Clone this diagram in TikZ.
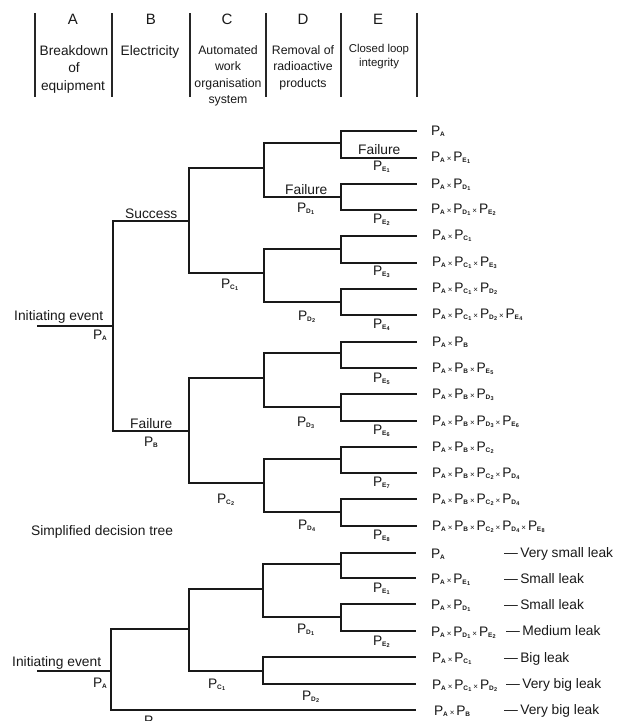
\documentclass[tikz,border=0pt]{standalone}
\usepackage{fontspec}
\setmainfont{Liberation Sans}
\newcommand{\Pone}[1]{P\kern-0.3pt\raisebox{-1.8pt}{\fontsize{6.5}{6.5}\selectfont\bfseries #1}}
\newcommand{\Ptwo}[2]{P\kern-0.3pt\raisebox{-1.8pt}{\fontsize{6.5}{6.5}\selectfont\bfseries #1\kern0.3pt\raisebox{-0.9pt}{\fontsize{5.5}{5.5}\selectfont #2}}}
\newcommand{\tms}{\hspace{2pt}{\fontsize{8}{8}\selectfont ×}\hspace{2pt}}
\tikzset{
  ln/.style={line width=1.5pt, draw=black!90},
  hline/.style={line width=1.5pt, draw=black!85},
  lbl/.style={inner sep=0pt, anchor=base west, text=black!90, font=\fontsize{13.8}{14}\selectfont},
  res/.style={inner sep=0pt, anchor=base west, text=black!90, font=\fontsize{13.8}{14}\selectfont},
  hdl/.style={inner sep=0pt, anchor=base, text=black!90, font=\fontsize{15}{15}\selectfont},
  hda/.style={inner sep=0pt, anchor=base, text=black!90, font=\fontsize{13.7}{14}\selectfont},
  hdc/.style={inner sep=0pt, anchor=base, text=black!90, font=\fontsize{12.3}{13}\selectfont},
  hde/.style={inner sep=0pt, anchor=base, text=black!90, font=\fontsize{11.4}{12}\selectfont},
}
\begin{document}
\begin{tikzpicture}[x=1pt,y=-1pt]
\useasboundingbox (0,0) rectangle (624,721);
% ---------- header ----------
\foreach \xx in {35,112,190,266,341,417}{
  \draw[hline] (\xx,13) -- (\xx,97);
}
\node[hdl] (hA) at (73,24) {A};
\node[hdl] (hB) at (151,24) {B};
\node[hdl] (hC) at (227,24) {C};
\node[hdl] (hD) at (303,24) {D};
\node[hdl] (hE) at (378,24) {E};
\node[hda] (a1) at (74,55) {Breakdown};
\node[hda] (a2) at (74,72.5) {of};
\node[hda] (a3) at (73,90) {equipment};
\node[hda] (b1t) at (150,55) {Electricity};
\node[hdc] (c1t) at (228,54.5) {Automated};
\node[hdc] (c2t) at (228,70.5) {work};
\node[hdc] (c3t) at (228,87) {organisation};
\node[hdc] (c4t) at (228,103) {system};
\node[hdc] (d1t) at (303,54.5) {Removal of};
\node[hdc] (d2t) at (303,70.5) {radioactive};
\node[hdc] (d3t) at (303,87) {products};
\node[hde] (e1t) at (379,52.5) {Closed loop};
\node[hde] (e2t) at (379,66.5) {integrity};

% ---------- top tree ----------
\coordinate (ie) at (37,326);
\coordinate (r) at (113,326);
\coordinate (b1) at (189,221);
\coordinate (b2) at (189,431);
\coordinate (c1) at (264,168);
\coordinate (c2) at (264,273);
\coordinate (c3) at (264,378);
\coordinate (c4) at (264,483);
\foreach \i/\yy in {1/143,2/197,3/249,4/302,5/353,6/407,7/459,8/512}{
  \coordinate (d\i) at (341,\yy);
}
\foreach \i/\yy in {1/131,2/158,3/184,4/210,5/236,6/263,7/289,8/315,9/342,10/368,11/394,12/421,13/447,14/473,15/499,16/526}{
  \coordinate (e\i) at (417,\yy);
}
\draw[ln] (ie) -- (r);
\draw[ln] (r) |- (b1);
\draw[ln] (r) |- (b2);
\draw[ln] (b1) |- (c1);
\draw[ln] (b1) |- (c2);
\draw[ln] (b2) |- (c3);
\draw[ln] (b2) |- (c4);
\draw[ln] (c1) |- (d1);
\draw[ln] (c1) |- (d2);
\draw[ln] (c2) |- (d3);
\draw[ln] (c2) |- (d4);
\draw[ln] (c3) |- (d5);
\draw[ln] (c3) |- (d6);
\draw[ln] (c4) |- (d7);
\draw[ln] (c4) |- (d8);
\foreach \i/\a/\b in {1/1/2,2/3/4,3/5/6,4/7/8,5/9/10,6/11/12,7/13/14,8/15/16}{
  \draw[ln] (d\i) |- (e\a);
  \draw[ln] (d\i) |- (e\b);
}
% branch labels
\node[lbl] (tie) at (14,320) {Initiating event};
\node[lbl] (tpa) at (93,339) {\Pone{A}};
\node[lbl] (tsu) at (125,218) {Success};
\node[lbl] (tfb) at (130,428) {Failure};
\node[lbl] (tpb) at (144,446) {\Pone{B}};
\node[lbl] (tpc1) at (221,288) {\Ptwo{C}{1}};
\node[lbl] (tpc2) at (217,503) {\Ptwo{C}{2}};
\node[lbl] (tfd) at (285,194) {Failure};
\node[lbl] (tpd1) at (297,212) {\Ptwo{D}{1}};
\node[lbl] (tpd2) at (298,320) {\Ptwo{D}{2}};
\node[lbl] (tpd3) at (297,426) {\Ptwo{D}{3}};
\node[lbl] (tpd4) at (298,529) {\Ptwo{D}{4}};
\node[lbl] (tfe) at (358,154) {Failure};
\node[lbl] (tpe1) at (373,170) {\Ptwo{E}{1}};
\node[lbl] (tpe2) at (373,223) {\Ptwo{E}{2}};
\node[lbl] (tpe3) at (373,275) {\Ptwo{E}{3}};
\node[lbl] (tpe4) at (373,328) {\Ptwo{E}{4}};
\node[lbl] (tpe5) at (373,382) {\Ptwo{E}{5}};
\node[lbl] (tpe6) at (373,434) {\Ptwo{E}{6}};
\node[lbl] (tpe7) at (373,486) {\Ptwo{E}{7}};
\node[lbl] (tpe8) at (373,539) {\Ptwo{E}{8}};
% results
\node[res] (r1) at ([shift={(14,4)}]e1) {\Pone{A}};
\node[res] (r2) at ([shift={(14,3)}]e2) {\Pone{A}\tms\Ptwo{E}{1}};
\node[res] (r3) at ([shift={(14,4)}]e3) {\Pone{A}\tms\Ptwo{D}{1}};
\node[res] (r4) at ([shift={(14,3)}]e4) {\Pone{A}\tms\Ptwo{D}{1}\tms\Ptwo{E}{2}};
\node[res] (r5) at ([shift={(15,3)}]e5) {\Pone{A}\tms\Ptwo{C}{1}};
\node[res] (r6) at ([shift={(15,3)}]e6) {\Pone{A}\tms\Ptwo{C}{1}\tms\Ptwo{E}{3}};
\node[res] (r7) at ([shift={(15,3)}]e7) {\Pone{A}\tms\Ptwo{C}{1}\tms\Ptwo{D}{2}};
\node[res] (r8) at ([shift={(15,3)}]e8) {\Pone{A}\tms\Ptwo{C}{1}\tms\Ptwo{D}{2}\tms\Ptwo{E}{4}};
\node[res] (r9) at ([shift={(15,4)}]e9) {\Pone{A}\tms\Pone{B}};
\node[res] (r10) at ([shift={(15,4)}]e10) {\Pone{A}\tms\Pone{B}\tms\Ptwo{E}{5}};
\node[res] (r11) at ([shift={(15,4)}]e11) {\Pone{A}\tms\Pone{B}\tms\Ptwo{D}{3}};
\node[res] (r12) at ([shift={(15,4)}]e12) {\Pone{A}\tms\Pone{B}\tms\Ptwo{D}{3}\tms\Ptwo{E}{6}};
\node[res] (r13) at ([shift={(15,4)}]e13) {\Pone{A}\tms\Pone{B}\tms\Ptwo{C}{2}};
\node[res] (r14) at ([shift={(15,4)}]e14) {\Pone{A}\tms\Pone{B}\tms\Ptwo{C}{2}\tms\Ptwo{D}{4}};
\node[res] (r15) at ([shift={(15,4)}]e15) {\Pone{A}\tms\Pone{B}\tms\Ptwo{C}{2}\tms\Ptwo{D}{4}};
\node[res] (r16) at ([shift={(15,4)}]e16) {\Pone{A}\tms\Pone{B}\tms\Ptwo{C}{2}\tms\Ptwo{D}{4}\tms\Ptwo{E}{8}};

\node[lbl] (simp) at (31,535) {Simplified decision tree};

% ---------- bottom tree ----------
\coordinate (ieb) at (37,671);
\coordinate (rb) at (111,671);
\coordinate (bb1) at (189,629);
\coordinate (cb1) at (263,589);
\coordinate (cb2) at (263,671);
\coordinate (db1) at (341,564);
\coordinate (db2) at (341,617);
\foreach \i/\yy in {1/553,2/578,3/604,4/631,5/657,6/684,7/710}{
  \coordinate (lb\i) at (416,\yy);
}
\draw[ln] (ieb) -- (rb);
\draw[ln] (rb) |- (bb1);
\draw[ln] (rb) |- (lb7);
\draw[ln] (bb1) |- (cb1);
\draw[ln] (bb1) |- (cb2);
\draw[ln] (cb1) |- (db1);
\draw[ln] (cb1) |- (db2);
\draw[ln] (db1) |- (lb1);
\draw[ln] (db1) |- (lb2);
\draw[ln] (db2) |- (lb3);
\draw[ln] (db2) |- (lb4);
\draw[ln] (cb2) |- (lb5);
\draw[ln] (cb2) |- (lb6);

\node[lbl] (bie) at (12,666) {Initiating event};
\node[lbl] (bpa) at (93,687) {\Pone{A}};
\node[lbl] (bpb) at (144,725) {\Pone{B}};
\node[lbl] (bpc1) at (208,688) {\Ptwo{C}{1}};
\node[lbl] (bpd1) at (297,633) {\Ptwo{D}{1}};
\node[lbl] (bpd2) at (302,700) {\Ptwo{D}{2}};
\node[lbl] (bpe1) at (373,592) {\Ptwo{E}{1}};
\node[lbl] (bpe2) at (373,645) {\Ptwo{E}{2}};

\node[res] (s1) at ([shift={(15,5)}]lb1) {\Pone{A}};
\node[res] (s2) at ([shift={(15,5)}]lb2) {\Pone{A}\tms\Ptwo{E}{1}};
\node[res] (s3) at ([shift={(15,5)}]lb3) {\Pone{A}\tms\Ptwo{D}{1}};
\node[res] (s4) at ([shift={(15,5)}]lb4) {\Pone{A}\tms\Ptwo{D}{1}\tms\Ptwo{E}{2}};
\node[res] (s5) at ([shift={(16,5)}]lb5) {\Pone{A}\tms\Ptwo{C}{1}};
\node[res] (s6) at ([shift={(16,5)}]lb6) {\Pone{A}\tms\Ptwo{C}{1}\tms\Ptwo{D}{2}};
\node[res] (s7) at ([shift={(18,5)}]lb7) {\Pone{A}\tms\Pone{B}};

\node[res] (k1) at (504,557) {—\,Very small leak};
\node[res] (k2) at (504,583) {—\,Small leak};
\node[res] (k3) at (504,609) {—\,Small leak};
\node[res] (k4) at (506,635) {—\,Medium leak};
\node[res] (k5) at (504,662) {—\,Big leak};
\node[res] (k6) at (506,688) {—\,Very big leak};
\node[res] (k7) at (504,714) {—\,Very big leak};
\end{tikzpicture}
\end{document}
